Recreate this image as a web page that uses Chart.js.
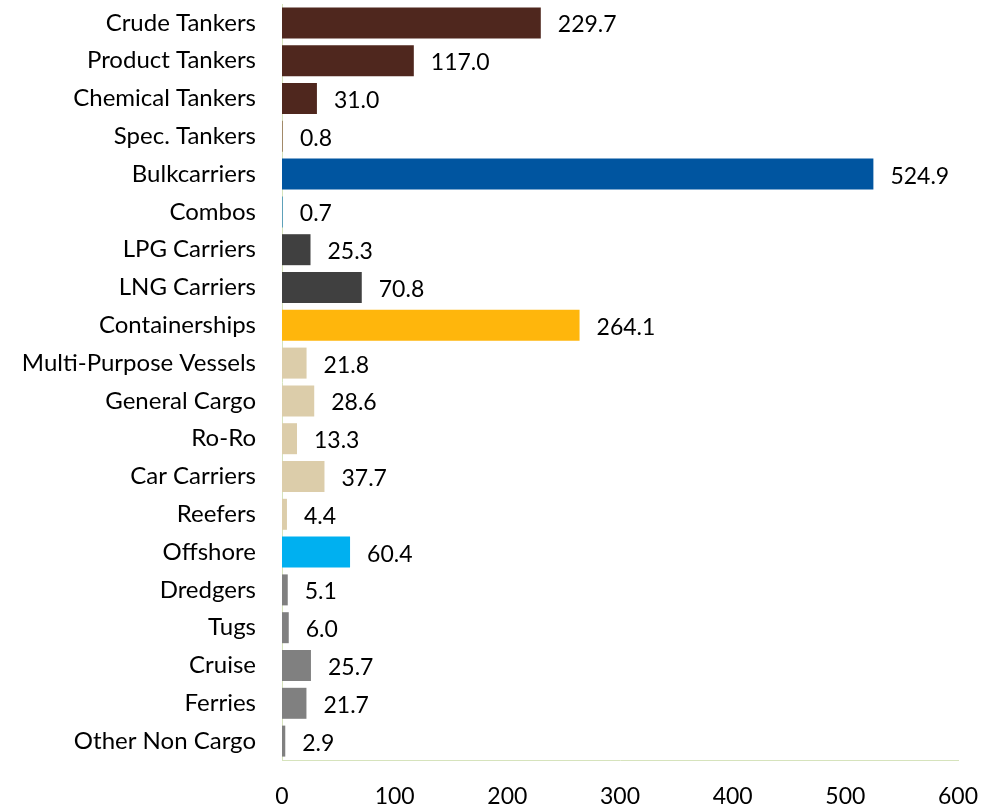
<!DOCTYPE html>
<html>
<head>
<meta charset="utf-8">
<script src="https://cdn.jsdelivr.net/npm/chart.js@4/dist/chart.umd.min.js"></script>
<style>
  html, body { margin: 0; padding: 0; background: #ffffff; }
  #wrap { width: 982px; height: 808px; }
</style>
</head>
<body>
<div id="wrap"><canvas id="fleetChart" width="982" height="808"></canvas></div>
<script>
// Ship types and values
var shipTypes = [
    'Crude Tankers', 'Product Tankers', 'Chemical Tankers', 'Spec. Tankers',
    'Bulkcarriers', 'Combos', 'LPG Carriers', 'LNG Carriers', 'Containerships',
    'Multi-Purpose Vessels', 'General Cargo', 'Ro-Ro', 'Car Carriers', 'Reefers',
    'Offshore', 'Dredgers', 'Tugs', 'Cruise', 'Ferries', 'Other Non Cargo'
];
var shipValues = [
    229.7, 117.0, 31.0, 0.8,
    524.9, 0.7, 25.3, 70.8, 264.1,
    21.8, 28.6, 13.3, 37.7, 4.4,
    60.4, 5.1, 6.0, 25.7, 21.7, 2.9
];
var barColors = [
    '#4f271e', '#4f271e', '#4f271e', '#9c8160',
    '#0055a0', '#3e8fb8', '#404040', '#404040', '#ffb60c',
    '#dccdaa', '#dccdaa', '#dccdaa', '#dccdaa', '#dccdaa',
    '#00b0f0', '#808080', '#808080', '#808080', '#808080', '#808080'
];
var xTicks = [0, 100, 200, 300, 400, 500, 600];

var FONT = 'Lato, Calibri, "Liberation Sans", sans-serif';

// draw value labels at the end of each bar
var valueLabels = {
    id: 'valueLabels',
    afterDatasetsDraw: function (chart) {
        var ctx = chart.ctx;
        var meta = chart.getDatasetMeta(0);
        ctx.save();
        ctx.font = '23px ' + FONT;
        ctx.fillStyle = '#000000';
        ctx.textAlign = 'left';
        ctx.textBaseline = 'middle';
        meta.data.forEach(function (bar, i) {
            ctx.fillText(shipValues[i].toFixed(1), bar.x + 17, bar.y + 2);
        });
        ctx.restore();
    }
};

new Chart(document.getElementById('fleetChart').getContext('2d'), {
    type: 'bar',
    data: {
        labels: shipTypes,
        datasets: [{
            data: shipValues,
            backgroundColor: barColors,
            borderWidth: 0,
            barPercentage: 0.82,
            categoryPercentage: 1.0
        }]
    },
    options: {
        indexAxis: 'y',
        responsive: false,
        animation: false,
        layout: { padding: { top: 4, right: 24, left: 0, bottom: 0 } },
        plugins: {
            legend: { display: false },
            tooltip: { enabled: false }
        },
        scales: {
            x: {
                min: 0,
                max: 600,
                afterBuildTicks: function (scale) {
                    scale.ticks = xTicks.map(function (v) { return { value: v }; });
                },
                afterFit: function (scale) {
                    scale.height = 48;
                    scale.paddingLeft = 0;
                    scale.paddingRight = 0;
                },
                grid: { display: false, drawTicks: false },
                border: { display: true, color: '#d6e3bc', width: 1 },
                ticks: {
                    padding: 23,
                    color: '#000000',
                    font: { family: FONT, size: 23 },
                    maxRotation: 0
                }
            },
            y: {
                afterFit: function (scale) {
                    scale.width = 282;
                    scale.paddingTop = 0;
                    scale.paddingBottom = 0;
                },
                grid: { display: false, drawTicks: false },
                border: { display: true, color: '#d6e3bc', width: 1 },
                ticks: {
                    padding: 26,
                    color: '#000000',
                    font: { family: FONT, size: 24 },
                    autoSkip: false
                }
            }
        }
    },
    plugins: [valueLabels]
});
</script>
</body>
</html>
